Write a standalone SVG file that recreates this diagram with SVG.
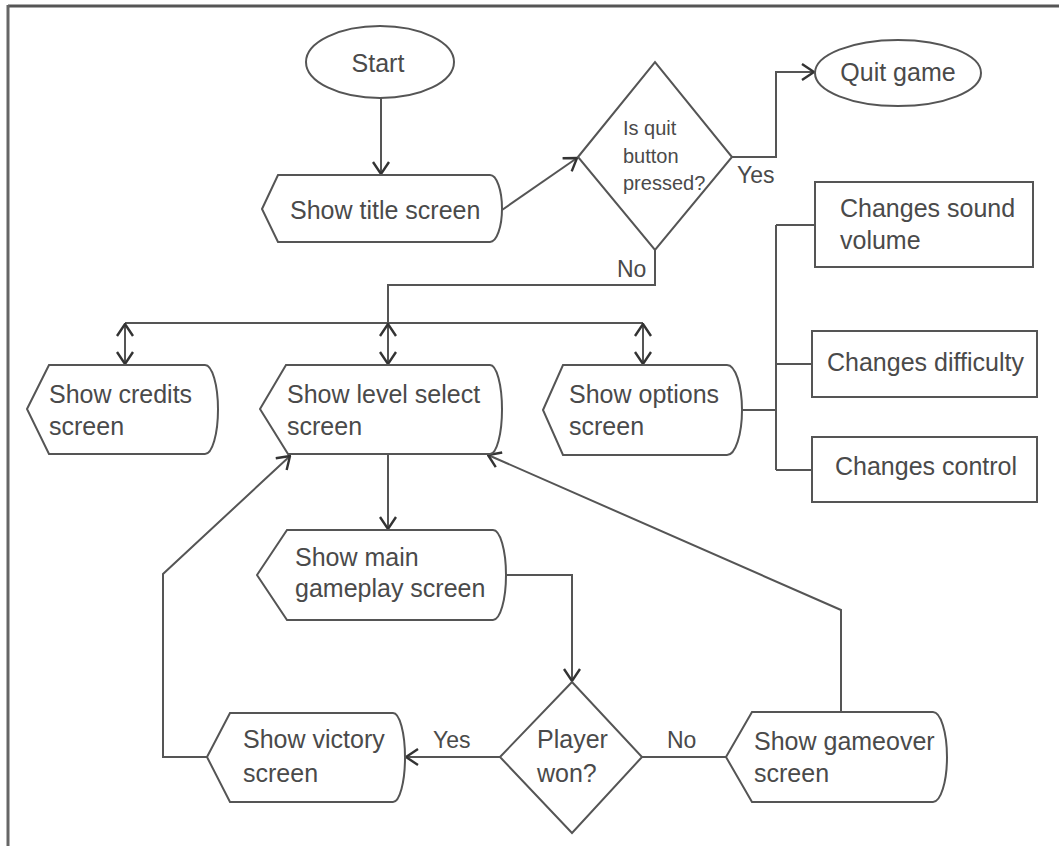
<svg xmlns="http://www.w3.org/2000/svg" width="1059" height="846" viewBox="0 0 1059 846">
<style>
.shape{fill:#fff;stroke:#555;stroke-width:2}
.line{fill:none;stroke:#555;stroke-width:2}
.t{font-family:"Liberation Sans",Arial,sans-serif;font-size:25px;fill:#4a4a4a}
.s{font-family:"Liberation Sans",Arial,sans-serif;font-size:20px;fill:#4a4a4a}
.l{font-family:"Liberation Sans",Arial,sans-serif;font-size:23px;fill:#4a4a4a}
</style>
<defs>
<marker id="arr" markerUnits="userSpaceOnUse" viewBox="0 0 14 18" refX="13" refY="9" markerWidth="14" markerHeight="18" orient="auto-start-reverse">
<path d="M1,1 L13,9 L1,17" fill="none" stroke="#333" stroke-width="2.4"/>
</marker>
</defs>
<rect width="1059" height="846" fill="#fff"/>
<g id="frame">
<line x1="8" y1="6" x2="1059" y2="6" stroke="#555" stroke-width="3"/>
<line x1="8" y1="5" x2="8" y2="846" stroke="#666" stroke-width="3"/>
</g>
<g id="connectors">
<path class="line" d="M381,98 L381,174" marker-end="url(#arr)"/>
<path class="line" d="M502,210 L577,158" marker-end="url(#arr)"/>
<path class="line" d="M732,157 L776,157 L776,72 L814,72" marker-end="url(#arr)"/>
<path class="line" d="M655,250 L655,285 L388,285 L388,323"/>
<path class="line" d="M125,323 L643,323"/>
<path class="line" d="M125,324 L125,364" marker-start="url(#arr)" marker-end="url(#arr)"/>
<path class="line" d="M388,324 L388,364" marker-start="url(#arr)" marker-end="url(#arr)"/>
<path class="line" d="M643,324 L643,364" marker-start="url(#arr)" marker-end="url(#arr)"/>
<path class="line" d="M742,410 L776,410"/>
<path class="line" d="M776,225 L776,470"/>
<path class="line" d="M776,225 L815,225"/>
<path class="line" d="M776,364 L812,364"/>
<path class="line" d="M776,470 L812,470"/>
<path class="line" d="M388,454 L388,529" marker-end="url(#arr)"/>
<path class="line" d="M506,575 L572,575 L572,681" marker-end="url(#arr)"/>
<path class="line" d="M500,757 L406,757" marker-end="url(#arr)"/>
<path class="line" d="M207,757 L163,757 L163,574 L290,456" marker-end="url(#arr)"/>
<path class="line" d="M642,757 L726,757"/>
<path class="line" d="M841,712 L841,610 L488,455" marker-end="url(#arr)"/>
<text class="l" x="737" y="183">Yes</text>
<text class="l" x="617" y="277">No</text>
<text class="l" x="433" y="748">Yes</text>
<text class="l" x="667" y="748">No</text>
</g>
<g id="start">
<ellipse class="shape" cx="380" cy="62" rx="74" ry="36"/>
<text class="t" x="378" y="72" text-anchor="middle" font-size="26">Start</text>
</g>
<g id="title">
<path class="shape" d="M262,209 L278,175 L490,175 A12,33.5 0 0 1 490,242 L278,242 Z"/>
<text class="t" x="290" y="219">Show title screen</text>
</g>
<g id="quitq">
<path class="shape" d="M578,157 L655,62 L732,157 L655,250 Z"/>
<text class="s" x="623" y="135">Is quit</text>
<text class="s" x="623" y="163">button</text>
<text class="s" x="623" y="190">pressed?</text>
</g>
<g id="quit">
<ellipse class="shape" cx="898" cy="73" rx="83" ry="33"/>
<text class="t" x="898" y="81" text-anchor="middle">Quit game</text>
</g>
<g id="credits">
<path class="shape" d="M27,409 L49,365 L205,365 A13,44.5 0 0 1 205,454 L49,454 Z"/>
<text class="t" x="49" y="403">Show credits</text>
<text class="t" x="49" y="435">screen</text>
</g>
<g id="levelselect">
<path class="shape" d="M260,409 L286,365 L490,365 A12,44.5 0 0 1 490,454 L288,454 Z"/>
<text class="t" x="287" y="403">Show level select</text>
<text class="t" x="287" y="435">screen</text>
</g>
<g id="options">
<path class="shape" d="M543,410 L563,365 L727,365 A15,45 0 0 1 727,455 L563,455 Z"/>
<text class="t" x="569" y="403">Show options</text>
<text class="t" x="569" y="435">screen</text>
</g>
<g id="sound">
<rect class="shape" x="815" y="182" width="218" height="85"/>
<text class="t" x="840" y="217">Changes sound</text>
<text class="t" x="840" y="249">volume</text>
</g>
<g id="difficulty">
<rect class="shape" x="812" y="331" width="225" height="66"/>
<text class="t" x="827" y="371">Changes difficulty</text>
</g>
<g id="control">
<rect class="shape" x="812" y="437" width="225" height="65"/>
<text class="t" x="835" y="475">Changes control</text>
</g>
<g id="gameplay">
<path class="shape" d="M257,575 L287,530 L493,530 A13,45 0 0 1 493,620 L287,620 Z"/>
<text class="t" x="295" y="566">Show main</text>
<text class="t" x="295" y="597">gameplay screen</text>
</g>
<g id="playerwon">
<path class="shape" d="M500,757 L572,682 L642,757 L572,833 Z"/>
<text class="t" x="537" y="748">Player</text>
<text class="t" x="537" y="782">won?</text>
</g>
<g id="victory">
<path class="shape" d="M207,757 L230,713 L393,713 A12,44.5 0 0 1 393,802 L230,802 Z"/>
<text class="t" x="243" y="748">Show victory</text>
<text class="t" x="243" y="782">screen</text>
</g>
<g id="gameover">
<path class="shape" d="M726,757 L752,712 L933,712 A14,45 0 0 1 933,802 L752,802 Z"/>
<text class="t" x="754" y="750">Show gameover</text>
<text class="t" x="754" y="782">screen</text>
</g>
</svg>
